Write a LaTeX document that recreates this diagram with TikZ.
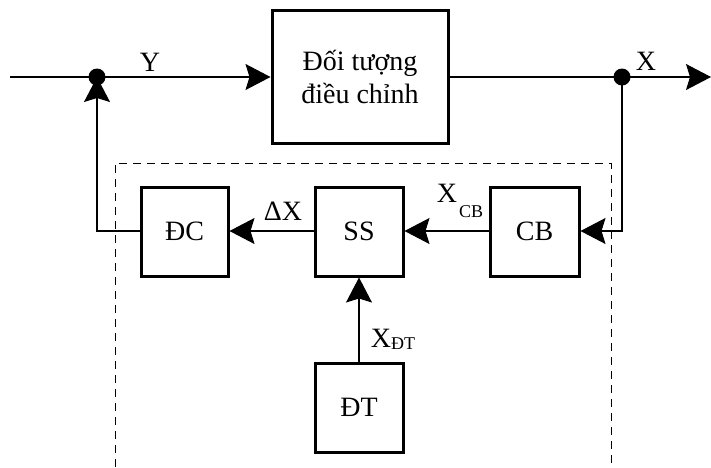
\documentclass[tikz,border=0pt]{standalone}
\usepackage{fontspec}
\setmainfont{Liberation Serif}
\usetikzlibrary{arrows.meta}
\begin{document}
\begin{tikzpicture}[x=1pt,y=-1pt,
  block/.style={draw, line width=3pt, inner sep=0pt, align=center,
    font=\fontsize{28}{33}\selectfont},
  wire/.style={line width=1.1pt},
  arr/.style={wire, -{Stealth[length=25pt,width=26pt,inset=4pt]}},
  junction/.style={circle, fill=black, inner sep=0pt, minimum size=17pt},
  lbl/.style={inner sep=0pt, font=\fontsize{28}{33}\selectfont},
  sub/.style={inner sep=0pt, font=\fontsize{18}{20}\selectfont},
  frame/.style={line width=1pt, dash pattern=on 8pt off 6pt}]
\path[use as bounding box] (0,0) rectangle (711,467);

% blocks
\node[block, minimum width=176pt, minimum height=133pt] (plant) at (360,76.5)
  {Đối tượng\\điều chỉnh};
\node[block, minimum width=87pt, minimum height=89pt] (dc) at (184.5,231.5) {ĐC};
\node[block, minimum width=88pt, minimum height=89pt] (ss) at (359,231.5) {SS};
\node[block, minimum width=89pt, minimum height=89pt] (cb) at (534.5,231.5) {CB};
\node[block, minimum width=88pt, minimum height=89pt] (dt) at (359,407.5) {ĐT};

% dashed frame around the controller
\draw[frame] (115,467) -- (115,163) -- (611,163) -- (611,467);

% junction points and helper coordinates
\coordinate (in) at (10,77);
\coordinate (out) at (711,77);
\coordinate (j1) at (97,77);
\coordinate (j2) at (622,77);
\coordinate (fb1) at (622,231);
\coordinate (fb2) at (97,231);

% main signal path
\draw[wire] (in) -- (j1);
\draw[arr] (j1) -- (plant.west |- j1);
\draw[wire] (plant.east |- j2) -- (j2);
\draw[arr] (j2) -- (out);

% feedback loop
\draw[arr] (j2) -- (fb1) -- (cb.east |- fb1);
\draw[arr] (cb.west |- fb1) -- (ss.east |- fb1);
\draw[arr] (ss.west |- fb1) -- (dc.east |- fb1);
\draw[arr] (dc.west |- fb2) -- (fb2) -- (j1);
\draw[arr] (dt.north) -- (ss.south);

\node[junction] (d1) at (j1) {};
\node[junction] (d2) at (j2) {};

% signal labels
\node[lbl] (ly) at (150,62) {Y};
\node[lbl] (lx) at (646,61) {X};
\node[lbl] (ldx) at (283,211) {ΔX};
\node[lbl] (lxcb) at (447,193) {X};
\node[sub] (lcb) at (471,212) {CB};
\node[lbl] (lxdt) at (381,338) {X};
\node[sub] (ldt) at (403,344) {ĐT};
\end{tikzpicture}
\end{document}
